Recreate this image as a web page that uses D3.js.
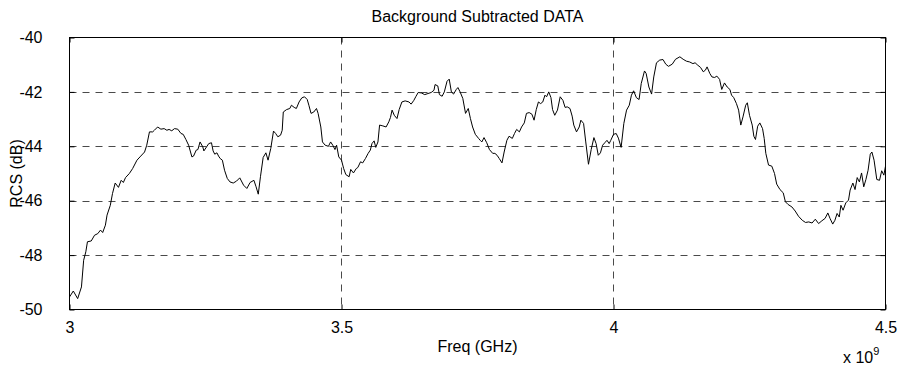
<!DOCTYPE html>
<html>
<head>
<meta charset="utf-8">
<script src="https://cdn.jsdelivr.net/npm/d3@7"></script>
<style>
  html, body { margin: 0; padding: 0; background: #fff; }
  svg { display: block; }
  text { font-family: Arial, "Liberation Sans", Helvetica, sans-serif; fill: #000; }
</style>
</head>
<body>
<svg id="chart" width="902" height="368"></svg>
<script>
// Swept-frequency RCS measurement, background subtracted (frequency in GHz, RCS in dB)
const freqGHz = [
  3.000, 3.007, 3.015, 3.022, 3.026, 3.030, 3.033, 3.040, 3.046, 3.052,
  3.057, 3.061, 3.066, 3.069, 3.075, 3.079, 3.084, 3.090, 3.095, 3.099,
  3.103, 3.110, 3.116, 3.124, 3.131, 3.138, 3.142, 3.147, 3.153, 3.156,
  3.162, 3.168, 3.174, 3.179, 3.183, 3.188, 3.193, 3.199, 3.205, 3.209,
  3.214, 3.219, 3.225, 3.228, 3.233, 3.236, 3.240, 3.245, 3.247, 3.252,
  3.256, 3.261, 3.264, 3.267, 3.271, 3.274, 3.277, 3.281, 3.285, 3.290,
  3.295, 3.301, 3.307, 3.313, 3.320, 3.326, 3.332, 3.339, 3.343, 3.347,
  3.351, 3.356, 3.361, 3.365, 3.370, 3.375, 3.379, 3.383, 3.388, 3.391,
  3.393, 3.399, 3.405, 3.408, 3.413, 3.417, 3.422, 3.427, 3.432, 3.437,
  3.440, 3.444, 3.449, 3.454, 3.457, 3.462, 3.465, 3.470, 3.476, 3.480,
  3.484, 3.488, 3.491, 3.495, 3.500, 3.504, 3.508, 3.514, 3.517, 3.522,
  3.527, 3.530, 3.535, 3.539, 3.544, 3.549, 3.553, 3.556, 3.560, 3.563,
  3.567, 3.570, 3.576, 3.582, 3.587, 3.590, 3.593, 3.597, 3.602, 3.606,
  3.611, 3.617, 3.624, 3.628, 3.633, 3.637, 3.641, 3.647, 3.653, 3.659,
  3.665, 3.670, 3.672, 3.677, 3.680, 3.685, 3.689, 3.694, 3.698, 3.702,
  3.706, 3.711, 3.714, 3.718, 3.723, 3.728, 3.733, 3.737, 3.741, 3.746,
  3.752, 3.755, 3.758, 3.762, 3.767, 3.772, 3.778, 3.782, 3.786, 3.790,
  3.795, 3.799, 3.804, 3.808, 3.814, 3.818, 3.822, 3.827, 3.831, 3.836,
  3.840, 3.845, 3.850, 3.854, 3.858, 3.862, 3.866, 3.870, 3.874, 3.877,
  3.881, 3.885, 3.888, 3.892, 3.897, 3.902, 3.907, 3.911, 3.915, 3.920,
  3.924, 3.927, 3.932, 3.937, 3.940, 3.945, 3.949, 3.954, 3.959, 3.964,
  3.968, 3.972, 3.976, 3.980, 3.984, 3.988, 3.992, 3.995, 4.000, 4.005,
  4.009, 4.014, 4.019, 4.024, 4.029, 4.033, 4.037, 4.042, 4.047, 4.051,
  4.057, 4.060, 4.065, 4.070, 4.074, 4.079, 4.085, 4.091, 4.096, 4.101,
  4.108, 4.114, 4.122, 4.128, 4.134, 4.140, 4.146, 4.150, 4.155, 4.160,
  4.165, 4.169, 4.172, 4.177, 4.181, 4.186, 4.190, 4.195, 4.199, 4.204,
  4.209, 4.214, 4.217, 4.221, 4.226, 4.230, 4.234, 4.238, 4.243, 4.246,
  4.250, 4.255, 4.258, 4.261, 4.265, 4.269, 4.274, 4.277, 4.280, 4.285,
  4.291, 4.296, 4.300, 4.306, 4.312, 4.316, 4.321, 4.328, 4.334, 4.340,
  4.347, 4.353, 4.359, 4.365, 4.371, 4.377, 4.383, 4.389, 4.394, 4.398,
  4.403, 4.407, 4.411, 4.415, 4.418, 4.422, 4.427, 4.432, 4.435, 4.440,
  4.444, 4.448, 4.452, 4.456, 4.460, 4.464, 4.468, 4.472, 4.475, 4.479,
  4.484, 4.489, 4.493, 4.497, 4.500
];

const rcsDb = [
  -49.54, -49.32, -49.60, -49.17, -48.19, -47.88, -47.51, -47.48, -47.27, -47.21,
  -47.08, -47.17, -46.90, -46.53, -46.17, -45.74, -45.35, -45.51, -45.25, -45.33,
  -45.15, -45.00, -44.82, -44.51, -44.36, -44.21, -43.96, -43.47, -43.47, -43.41,
  -43.29, -43.37, -43.35, -43.41, -43.38, -43.43, -43.35, -43.37, -43.53, -43.56,
  -43.75, -43.96, -44.39, -44.36, -44.14, -44.12, -43.84, -44.02, -44.17, -44.02,
  -43.90, -43.87, -44.17, -44.29, -44.24, -44.36, -44.45, -44.51, -44.88, -45.18,
  -45.31, -45.35, -45.28, -45.16, -45.43, -45.55, -45.33, -45.25, -45.49, -45.76,
  -45.12, -44.41, -44.24, -44.51, -44.08, -43.44, -43.53, -43.65, -43.59, -43.41,
  -42.74, -42.65, -42.61, -42.49, -42.57, -42.61, -42.37, -42.22, -42.18, -42.28,
  -42.49, -42.79, -42.74, -42.61, -42.79, -43.29, -43.84, -43.96, -44.00, -43.84,
  -43.96, -44.12, -43.96, -44.39, -44.51, -44.82, -45.04, -45.12, -44.85, -44.98,
  -44.82, -44.78, -44.57, -44.61, -44.45, -44.26, -44.14, -43.90, -43.80, -44.04,
  -43.84, -43.22, -43.25, -43.29, -43.10, -42.94, -42.67, -42.86, -42.98, -42.65,
  -42.37, -42.33, -42.37, -42.45, -42.31, -42.16, -42.02, -42.04, -42.10, -42.06,
  -42.02, -41.94, -41.73, -41.78, -42.10, -42.16, -42.00, -41.61, -41.53, -42.00,
  -42.08, -41.91, -41.84, -42.00, -42.24, -42.79, -42.61, -42.98, -43.29, -43.56,
  -43.71, -43.78, -43.84, -43.68, -43.87, -44.12, -44.26, -44.26, -44.33, -44.45,
  -44.61, -44.21, -43.78, -43.63, -43.71, -43.53, -43.38, -43.47, -43.29, -43.14,
  -42.79, -42.76, -42.82, -43.04, -42.65, -42.37, -42.43, -42.37, -42.12, -42.18,
  -42.00, -42.21, -42.65, -42.86, -42.67, -42.18, -42.31, -42.57, -42.55, -42.61,
  -42.89, -43.22, -43.47, -43.29, -43.04, -43.16, -43.84, -44.66, -44.12, -43.68,
  -43.90, -44.33, -44.24, -43.96, -43.87, -43.78, -43.90, -43.78, -43.56, -43.53,
  -43.70, -44.04, -43.16, -42.67, -42.49, -42.12, -41.96, -42.21, -42.28, -41.69,
  -41.23, -41.32, -41.82, -42.08, -41.45, -40.93, -40.83, -40.81, -40.98, -41.06,
  -40.98, -40.80, -40.71, -40.80, -40.87, -40.90, -40.96, -40.93, -41.02, -41.10,
  -41.26, -41.20, -41.08, -41.32, -41.45, -41.47, -41.42, -41.54, -41.91, -41.67,
  -41.82, -41.91, -42.12, -42.21, -42.43, -42.67, -43.22, -42.92, -42.49, -42.40,
  -42.86, -43.22, -43.63, -43.75, -43.26, -43.14, -43.35, -43.71, -44.26, -44.69,
  -44.73, -45.00, -45.39, -45.59, -45.71, -46.04, -46.14, -46.23, -46.38, -46.57,
  -46.72, -46.80, -46.78, -46.82, -46.68, -46.84, -46.74, -46.65, -46.45, -46.65,
  -46.86, -46.72, -46.47, -46.60, -46.17, -46.35, -46.08, -45.98, -45.61, -45.35,
  -45.59, -45.15, -45.31, -44.98, -45.49, -45.22, -44.88, -44.29, -44.21, -44.51,
  -45.22, -45.25, -44.90, -45.06, -44.73
];

const xTicks = [3, 3.5, 4, 4.5];
const xTickLabels = ["3", "3.5", "4", "4.5"];
const yTicks = [-50, -48, -46, -44, -42, -40];
const yTickLabels = ["-50", "-48", "-46", "-44", "-42", "-40"];

const titleText = "Background Subtracted DATA";
const xLabelText = "Freq (GHz)";
const yLabelText = "RCS (dB)";

const plot = { left: 69.5, right: 885.5, top: 37.5, bottom: 309.5 };

const svg = d3.select("#chart");

const x = d3.scaleLinear().domain([3, 4.5]).range([plot.left, plot.right]);
const y = d3.scaleLinear().domain([-50, -40]).range([plot.bottom, plot.top]);

const gridColor = "#4a4a4a";
const dash = "7,6";
const fontSize = 16;
const tickLen = 5;

// Dashed grid lines at interior ticks
const grid = svg.append("g");
grid.selectAll("line.hgrid")
  .data(yTicks.filter(v => v > -50 && v < -40))
  .join("line")
  .attr("x1", plot.left).attr("x2", plot.right)
  .attr("y1", d => Math.round(y(d)) + 0.5).attr("y2", d => Math.round(y(d)) + 0.5)
  .attr("stroke", gridColor).attr("stroke-width", 1)
  .attr("stroke-dasharray", dash);
grid.selectAll("line.vgrid")
  .data(xTicks.filter(v => v > 3 && v < 4.5))
  .join("line")
  .attr("x1", d => Math.round(x(d)) + 0.5).attr("x2", d => Math.round(x(d)) + 0.5)
  .attr("y1", plot.top).attr("y2", plot.bottom)
  .attr("stroke", gridColor).attr("stroke-width", 1)
  .attr("stroke-dasharray", dash);

// Data trace
const line = d3.line()
  .x((d, i) => x(freqGHz[i]))
  .y(d => y(d));
svg.append("path")
  .datum(rcsDb)
  .attr("d", line)
  .attr("fill", "none")
  .attr("stroke", "#000")
  .attr("stroke-width", 1)
  .attr("stroke-linejoin", "round");

// Axes with inward ticks on all four sides
const axBottom = d3.axisBottom(x).tickValues(xTicks)
  .tickFormat((d, i) => xTickLabels[i]).tickSizeInner(-tickLen).tickSizeOuter(0).tickPadding(12);
const axTop = d3.axisTop(x).tickValues(xTicks)
  .tickFormat("").tickSizeInner(-tickLen).tickSizeOuter(0);
const axLeft = d3.axisLeft(y).tickValues(yTicks)
  .tickFormat((d, i) => yTickLabels[i]).tickSizeInner(-tickLen).tickSizeOuter(0).tickPadding(27);
const axRight = d3.axisRight(y).tickValues(yTicks)
  .tickFormat("").tickSizeInner(-tickLen).tickSizeOuter(0);

function styleAxis(g) {
  g.select(".domain").remove();
  g.selectAll("line").attr("stroke", "#000");
  g.selectAll("text").attr("font-size", fontSize)
    .attr("font-family", "Arial, 'Liberation Sans', sans-serif").attr("fill", "#000");
}

svg.append("g").attr("transform", `translate(0,${plot.bottom})`).call(axBottom).call(styleAxis);
svg.append("g").attr("transform", `translate(0,${plot.top})`).call(axTop).call(styleAxis);
svg.append("g").attr("transform", `translate(${plot.left},0)`).call(axLeft).call(styleAxis);
svg.append("g").attr("transform", `translate(${plot.right},0)`).call(axRight).call(styleAxis);

// Axes box
svg.append("rect")
  .attr("x", plot.left).attr("y", plot.top)
  .attr("width", plot.right - plot.left).attr("height", plot.bottom - plot.top)
  .attr("fill", "none").attr("stroke", "#000").attr("stroke-width", 1);

// Title and axis labels
svg.append("text")
  .attr("x", (plot.left + plot.right) / 2).attr("y", 22)
  .attr("text-anchor", "middle").attr("font-size", fontSize)
  .text(titleText);

svg.append("text")
  .attr("x", (plot.left + plot.right) / 2).attr("y", 352)
  .attr("text-anchor", "middle").attr("font-size", fontSize)
  .text(xLabelText);

svg.append("text")
  .attr("transform", `translate(22,${(plot.top + plot.bottom) / 2}) rotate(-90)`)
  .attr("text-anchor", "middle").attr("font-size", fontSize)
  .text(yLabelText);

// Exponent multiplier for the frequency axis
const expo = svg.append("text")
  .attr("x", 843).attr("y", 363).attr("font-size", fontSize);
expo.append("tspan").text("x 10");
expo.append("tspan").attr("dy", -8).attr("font-size", 11).text("9");
</script>
</body>
</html>
